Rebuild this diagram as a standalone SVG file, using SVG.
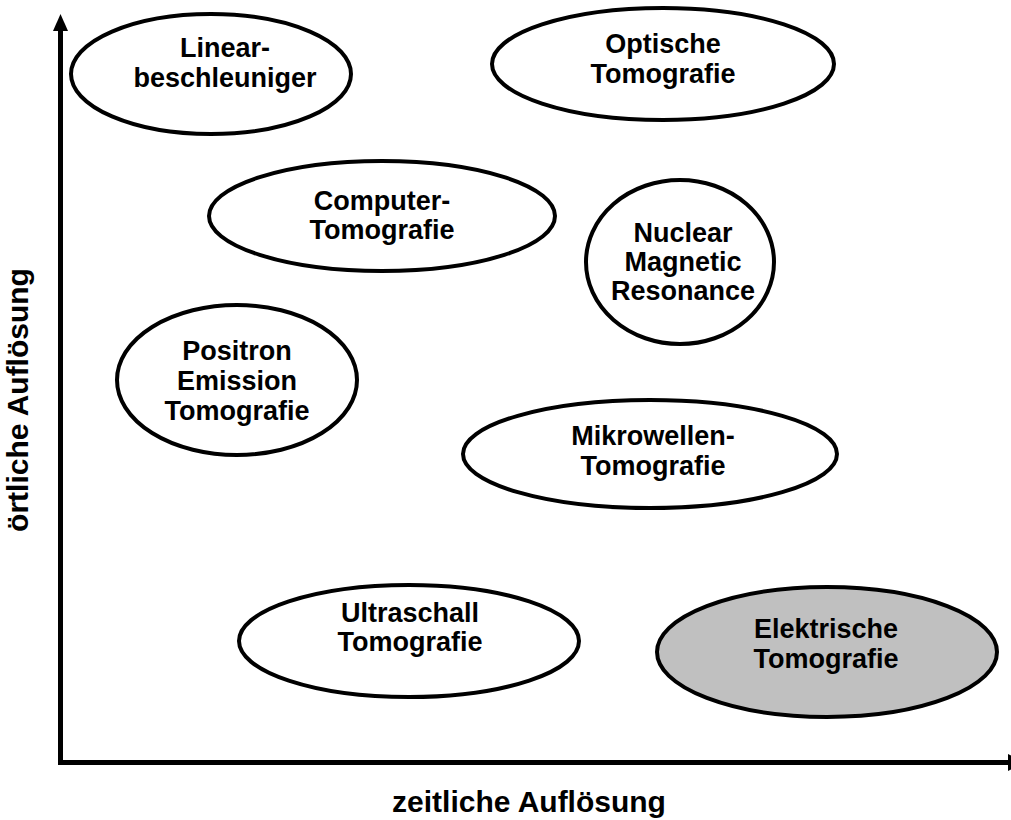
<svg xmlns="http://www.w3.org/2000/svg" width="1011" height="820" viewBox="0 0 1011 820">
<style>
.n ellipse{fill:#fff;stroke:#000;stroke-width:4}
.n.g ellipse{fill:#c0c0c0}
text{font-family:"Liberation Sans",Arial,sans-serif;font-weight:bold;font-size:27px;fill:#000;text-anchor:middle}
text.lab{font-size:30px}
.ax{stroke:#000;stroke-width:5;fill:none}
</style>
<rect width="1011" height="820" fill="#fff"/>
<g id="axes">
<line class="ax" x1="60.5" y1="765" x2="60.5" y2="28"/>
<polygon points="60.5,14 53,31 68,31" fill="#000"/>
<line class="ax" x1="58" y1="762.5" x2="1009" y2="762.5"/>
<polygon points="1008,754 1008,771 1026,762.5" fill="#000"/>
</g>
<g id="n1" class="n"><ellipse cx="211" cy="74" rx="140" ry="60"/><text x="225" y="57">Linear-</text><text x="225" y="87">beschleuniger</text></g>
<g id="n2" class="n"><ellipse cx="663" cy="64" rx="171" ry="56"/><text x="663" y="53">Optische</text><text x="663" y="83">Tomografie</text></g>
<g id="n3" class="n"><ellipse cx="382" cy="216" rx="173" ry="55"/><text x="382" y="210">Computer-</text><text x="382" y="239">Tomografie</text></g>
<g id="n4" class="n"><ellipse cx="680" cy="262" rx="94" ry="82"/><text x="683" y="242">Nuclear</text><text x="683" y="271">Magnetic</text><text x="683" y="300">Resonance</text></g>
<g id="n5" class="n"><ellipse cx="237" cy="380" rx="120" ry="75"/><text x="237" y="360">Positron</text><text x="237" y="390">Emission</text><text x="237" y="420">Tomografie</text></g>
<g id="n6" class="n"><ellipse cx="650" cy="454" rx="187" ry="54"/><text x="653" y="445">Mikrowellen-</text><text x="653" y="475">Tomografie</text></g>
<g id="n7" class="n"><ellipse cx="409" cy="641" rx="170" ry="56"/><text x="410" y="622">Ultraschall</text><text x="410" y="651">Tomografie</text></g>
<g id="n8" class="n g"><ellipse cx="827" cy="652" rx="170" ry="65"/><text x="826" y="638">Elektrische</text><text x="826" y="668">Tomografie</text></g>
<g id="labels">
<text class="lab" transform="translate(28,400) rotate(-90)">örtliche Auflösung</text>
<text class="lab" x="529" y="812">zeitliche Auflösung</text>
</g>
</svg>
